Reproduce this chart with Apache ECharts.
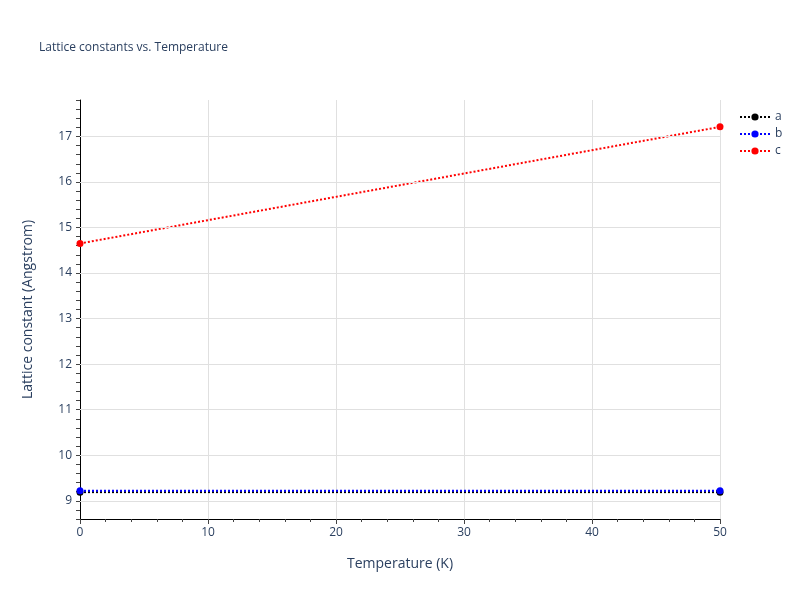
<!DOCTYPE html>
<html>
<head>
<meta charset="utf-8">
<script src="https://cdn.jsdelivr.net/npm/echarts@6/dist/echarts.min.js"></script>
<style>body{margin:0}#main{width:800px;height:600px}</style>
</head>
<body>
<div id="main"></div>
<script>
var temps = [0, 50];
var aVals = [9.19, 9.19];
var bVals = [9.22, 9.22];
var cVals = [14.65, 17.21];
var yTicks = [9, 10, 11, 12, 13, 14, 15, 16, 17];

function pts(v) {
  return temps.map(function (t, i) { return [t, v[i]]; });
}
function line(name, color, v) {
  return {
    name: name, type: 'line', data: pts(v),
    symbol: 'circle', symbolSize: 7,
    itemStyle: { color: color },
    lineStyle: { color: color, width: 2, type: [2, 2] }
  };
}

var series = [line('a', '#000', aVals), line('b', '#0000ff', bVals), line('c', '#ff0000', cVals)];
// horizontal gridlines at integer values
series[0].markLine = {
  silent: true, symbol: 'none', label: { show: false }, animation: false,
  lineStyle: { color: '#e0e0e0', type: 'solid', width: 1 },
  data: yTicks.map(function (v) { return { yAxis: v }; })
};
series[0].z = 3;

var chart = echarts.init(document.getElementById('main'));
chart.setOption({
  backgroundColor: '#fff',
  textStyle: { fontFamily: 'Open Sans, sans-serif' },
  title: {
    text: 'Lattice constants vs. Temperature', left: 34, top: 37,
    textStyle: { fontSize: 12, fontWeight: 'normal', color: '#2a3f5f' }
  },
  legend: {
    orient: 'vertical', left: 734, top: 106, itemGap: 5,
    itemWidth: 30, itemHeight: 9,
    textStyle: { color: '#2a3f5f', fontSize: 12 },
    data: ['a', 'b', 'c']
  },
  grid: { left: 80, right: 80, top: 100, bottom: 81 },
  xAxis: {
    type: 'value', min: 0, max: 50, interval: 10,
    name: 'Temperature (K)', nameLocation: 'middle', nameGap: 38,
    nameTextStyle: { color: '#2a3f5f', fontSize: 14 },
    axisLine: { show: true, onZero: false, lineStyle: { color: '#000' } },
    axisTick: { show: true, length: 5, lineStyle: { color: '#444' } },
    minorTick: { show: true, splitNumber: 5, length: 3, lineStyle: { color: '#444' } },
    axisLabel: { color: '#2a3f5f', fontSize: 12 },
    splitLine: { show: true, lineStyle: { color: '#e0e0e0' } }
  },
  yAxis: {
    type: 'value', min: 8.6, max: 17.8, interval: 0.2,
    name: 'Lattice constant (Angstrom)', nameLocation: 'middle', nameGap: 45,
    nameTextStyle: { color: '#2a3f5f', fontSize: 14 },
    axisLine: { show: true, lineStyle: { color: '#000' } },
    axisTick: { show: true, length: 4, lineStyle: { color: '#444' } },
    axisLabel: {
      color: '#2a3f5f', fontSize: 12, showMinLabel: true, showMaxLabel: true,
      formatter: function (v) { return Math.abs(v - Math.round(v)) < 1e-6 ? String(Math.round(v)) : ''; }
    },
    splitLine: { show: false }
  },
  series: series
});
</script>
</body>
</html>
